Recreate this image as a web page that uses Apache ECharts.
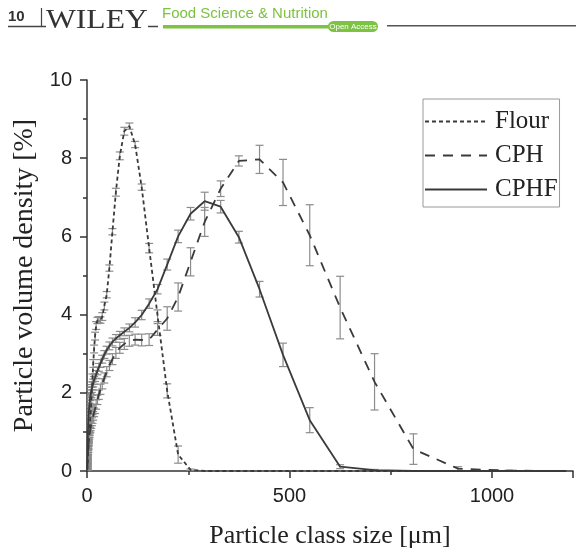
<!DOCTYPE html>
<html>
<head>
<meta charset="utf-8">
<script src="https://cdn.jsdelivr.net/npm/echarts@6/dist/echarts.min.js"></script>
<style>
html,body{margin:0;padding:0;background:#fff;}
#chart{width:576px;height:554px;}
</style>
</head>
<body>
<div id="chart"></div>
<script>
// Particle size classes [µm]
const sizeClasses = [0.49,0.56,0.63,0.72,0.82,0.93,1.06,1.20,1.36,1.55,1.76,2.00,2.27,2.58,2.93,3.33,3.78,4.30,4.88,5.55,6.30,7.16,8.14,9.25,10.5,11.9,13.6,15.4,17.5,19.9,22.6,25.7,29.2,33.2,37.7,42.8,48.6,55.3,62.8,71.3,81.0,92.1,104.6,118.8,135,153.4,174.3,198,225,255.7,290.5,330,375,426,484,550,625,710,806,916,1041,1183];

const flour = [0.02,0.03,0.04,0.05,0.07,0.09,0.11,0.14,0.17,0.21,0.25,0.30,0.35,0.41,0.48,0.55,0.63,0.72,0.82,0.93,1.05,1.19,1.36,1.55,1.78,2.05,2.38,2.75,3.12,3.45,3.72,3.85,3.87,3.86,3.95,4.22,4.51,5.19,6.12,7.13,8.06,8.69,8.82,8.35,7.26,5.70,3.97,2.05,0.42,0.03,0,0,0,0,0,0,0,0,0,0,0,0];
const flourErr = [0.02,0.02,0.02,0.03,0.03,0.03,0.04,0.04,0.04,0.05,0.05,0.05,0.06,0.06,0.06,0.07,0.07,0.07,0.08,0.08,0.08,0.09,0.09,0.09,0.10,0.10,0.10,0.10,0.10,0.10,0.10,0.08,0.08,0.08,0.10,0.10,0.08,0.08,0.08,0.10,0.10,0.10,0.08,0.08,0.08,0.12,0.15,0.18,0.22,0.02,0,0,0,0,0,0,0,0,0,0,0,0];

const cph = [0.02,0.03,0.05,0.07,0.10,0.13,0.17,0.21,0.26,0.31,0.36,0.41,0.47,0.53,0.59,0.65,0.71,0.77,0.83,0.89,0.95,1.01,1.07,1.13,1.19,1.26,1.33,1.41,1.50,1.59,1.70,1.82,1.95,2.09,2.23,2.38,2.54,2.70,2.86,3.02,3.15,3.25,3.33,3.36,3.35,3.36,3.62,3.90,4.45,5.35,6.37,7.22,7.93,7.97,7.38,6.03,4.18,2.28,0.56,0.06,0.01,0];
const cphErr = [0.02,0.02,0.02,0.03,0.03,0.03,0.04,0.04,0.05,0.05,0.05,0.06,0.06,0.06,0.07,0.07,0.07,0.08,0.08,0.08,0.09,0.09,0.09,0.10,0.10,0.10,0.11,0.11,0.11,0.12,0.12,0.12,0.12,0.13,0.13,0.13,0.13,0.13,0.14,0.14,0.14,0.14,0.14,0.14,0.15,0.15,0.15,0.30,0.36,0.36,0.37,0.20,0.13,0.36,0.59,0.78,0.80,0.72,0.39,0.05,0.01,0];

const cphf = [0.10,0.14,0.18,0.23,0.29,0.36,0.43,0.51,0.60,0.69,0.79,0.89,0.99,1.09,1.19,1.29,1.38,1.47,1.56,1.65,1.73,1.81,1.89,1.97,2.04,2.11,2.18,2.25,2.32,2.39,2.47,2.56,2.65,2.75,2.86,2.98,3.09,3.20,3.30,3.39,3.47,3.56,3.66,3.80,3.99,4.28,4.65,5.28,6.00,6.58,6.90,6.76,5.98,4.65,2.97,1.30,0.11,0.02,0,0,0,0];
const cphfErr = [0.03,0.03,0.03,0.04,0.04,0.04,0.05,0.05,0.05,0.06,0.06,0.06,0.07,0.07,0.07,0.08,0.08,0.08,0.08,0.09,0.09,0.09,0.09,0.10,0.10,0.10,0.10,0.10,0.10,0.10,0.10,0.10,0.10,0.10,0.10,0.10,0.10,0.10,0.10,0.10,0.10,0.10,0.10,0.12,0.12,0.12,0.12,0.14,0.16,0.16,0.23,0.16,0.15,0.20,0.30,0.32,0.05,0.02,0,0,0,0];

const seriesNames = ['Flour','CPH','CPHF'];
const xTicks = [0,500,1000];
const yTicks = [0,2,4,6,8,10];

const lineColor = '#3a3a3a';
const errColor = '#8c8c8c';

function pairs(vals){ return sizeClasses.map((x,i)=>[x, vals[i]]); }
function errData(vals, errs){
  return sizeClasses.map((x,i)=>[x, Math.max(0, vals[i]-errs[i]), vals[i]+errs[i]]).filter((d,i)=>errs[i]>0);
}
function errRender(params, api){
  const x = api.value(0);
  const p1 = api.coord([x, api.value(1)]);
  const p2 = api.coord([x, api.value(2)]);
  const w = 4;
  const st = {stroke: errColor, lineWidth: 1.2};
  return {type:'group', children:[
    {type:'line', shape:{x1:p1[0],y1:p1[1],x2:p2[0],y2:p2[1]}, style:st},
    {type:'line', shape:{x1:p1[0]-w,y1:p1[1],x2:p1[0]+w,y2:p1[1]}, style:st},
    {type:'line', shape:{x1:p2[0]-w,y1:p2[1],x2:p2[0]+w,y2:p2[1]}, style:st}
  ]};
}
function errSeries(vals, errs){
  return {type:'custom', renderItem: errRender, data: errData(vals, errs), encode:{x:0,y:[1,2]}, z:1, silent:true, clip:true};
}

const chart = echarts.init(document.getElementById('chart'), null, {renderer:'canvas'});
const green = '#7dc242';
chart.setOption({
  animation:false,
  backgroundColor:'#fff',
  grid:{left:87, top:80, width:491, height:395},
  xAxis:{
    type:'value', min:0, max:1200, interval:500,
    name:'Particle class size [\u03bcm]', nameLocation:'middle', nameGap:52,
    nameTextStyle:{fontFamily:'Liberation Serif', fontSize:26, color:'#222'},
    axisLine:{show:true, onZero:false, lineStyle:{color:'#333', width:1.5}},
    axisTick:{show:true, length:7, lineStyle:{color:'#333', width:1.5}},
    minorTick:{show:true, splitNumber:2, length:4, lineStyle:{color:'#333', width:1.5}},
    axisLabel:{fontFamily:'Liberation Sans', fontSize:20, color:'#222', margin:15,
      formatter:v=> xTicks.includes(v) ? String(v) : ''},
    splitLine:{show:false}
  },
  yAxis:{
    type:'value', min:0, max:10, interval:2,
    name:'Particle volume density [%]', nameLocation:'middle', nameGap:45,
    nameTextStyle:{fontFamily:'Liberation Serif', fontSize:28, color:'#222'},
    axisLine:{show:true, lineStyle:{color:'#333', width:1.5}},
    axisTick:{show:true, length:7, lineStyle:{color:'#333', width:1.5}},
    minorTick:{show:true, splitNumber:2, length:4, lineStyle:{color:'#333', width:1.5}},
    axisLabel:{fontFamily:'Liberation Sans', fontSize:20, color:'#222', margin:15,
      formatter:v=> yTicks.includes(v) ? String(v) : ''},
    splitLine:{show:false}
  },
  legend:{
    data:seriesNames, orient:'vertical', left:423, top:99,
    padding:[10,2,5,1], itemWidth:62, itemHeight:20, itemGap:9,
    borderColor:'#999', borderWidth:1, backgroundColor:'#fff',
    textStyle:{fontFamily:'Liberation Serif', fontSize:25, color:'#222', lineHeight:24, padding:[0,0,0,3]},
    itemStyle:{opacity:0}
  },
  series:[
    errSeries(flour, flourErr),
    errSeries(cph, cphErr),
    errSeries(cphf, cphfErr),
    {name:'Flour', type:'line', data:pairs(flour), symbol:'none', z:3,
      lineStyle:{color:lineColor, width:1.8, type:[4,3]}, itemStyle:{color:lineColor}},
    {name:'CPH', type:'line', data:pairs(cph), symbol:'none', z:3,
      lineStyle:{color:lineColor, width:1.8, type:[10,8]}, itemStyle:{color:lineColor}},
    {name:'CPHF', type:'line', data:pairs(cphf), symbol:'none', z:3,
      lineStyle:{color:lineColor, width:1.8, type:'solid'}, itemStyle:{color:lineColor}}
  ],
  graphic:[
    {type:'text', left:8, top:9, style:{text:'10', font:'bold 15px "Liberation Sans"', fill:'#333'}},
    {type:'line', shape:{x1:41.5,y1:8,x2:41.5,y2:26}, style:{stroke:'#444', lineWidth:1.2}},
    {type:'line', shape:{x1:8,y1:26.5,x2:46,y2:26.5}, style:{stroke:'#444', lineWidth:1.5}},
    {type:'text', x:46, y:7, scaleX:1.17, style:{text:'WILEY', font:'27px "Liberation Serif"', fill:'#333'}},
    {type:'line', shape:{x1:148,y1:26.5,x2:158,y2:26.5}, style:{stroke:'#444', lineWidth:1.5}},
    {type:'text', x:162, y:6, style:{text:'Food Science & Nutrition', font:'15px "Liberation Sans"', fill:green}},
    {type:'rect', shape:{x:163,y:25,width:168,height:3.5}, style:{fill:green}},
    {type:'rect', shape:{x:328,y:21,width:50,height:11,r:5.5}, style:{fill:green}},
    {type:'text', x:353, y:26.5, style:{text:'Open Access', font:'8px "Liberation Sans"', fill:'#fff', align:'center', verticalAlign:'middle'}},
    {type:'line', shape:{x1:387,y1:25.7,x2:576,y2:25.7}, style:{stroke:'#555', lineWidth:1.5}}
  ]
});
</script>
</body>
</html>
